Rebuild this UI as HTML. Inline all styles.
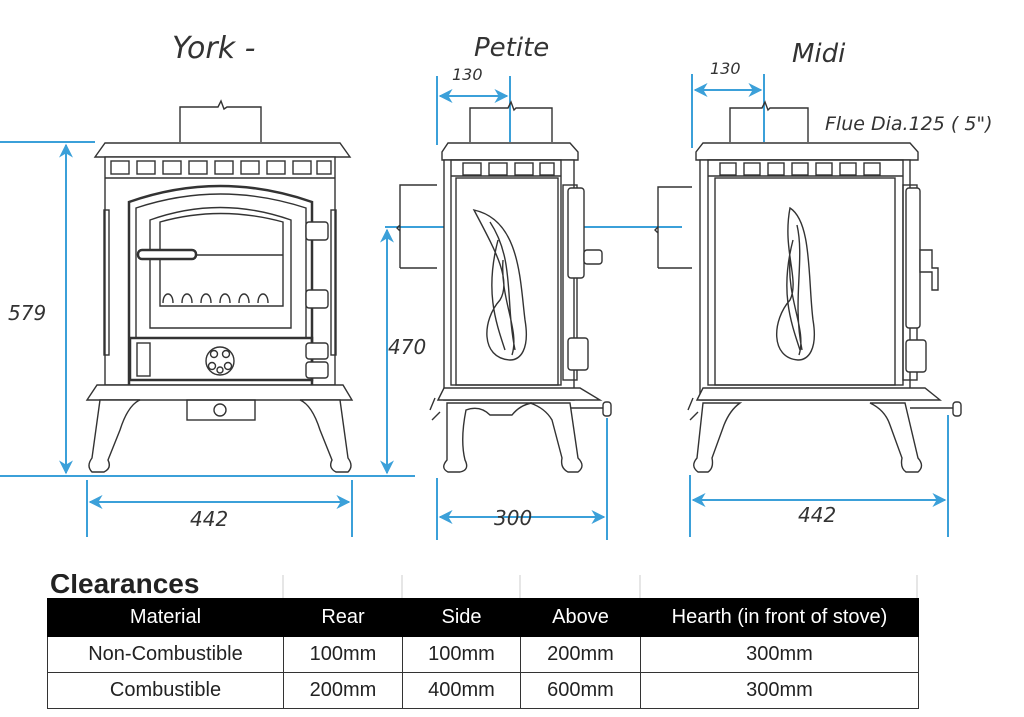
<!DOCTYPE html>
<html><head><meta charset="utf-8"><style>
html,body{margin:0;padding:0;background:#fff;}
#w{position:relative;width:1024px;height:717px;overflow:hidden;}
svg{position:absolute;left:0;top:0;}
.hw{font-family:"DejaVu Sans","Liberation Sans",sans-serif;font-style:italic;fill:#333;}
table{position:absolute;left:47px;top:598px;border-collapse:collapse;font-family:"Liberation Sans",sans-serif;font-size:20px;color:#222;}
td{border:1px solid #333;text-align:center;padding:0;height:35px;}
tr.h td{background:#000;color:#fff;height:37px;border-color:#000;}
</style></head><body><div id="w">
<svg width="1024" height="717" viewBox="0 0 1024 717">
<defs>
<marker id="a" viewBox="0 0 10 10" refX="9" refY="5" markerWidth="7" markerHeight="7" orient="auto-start-reverse"><path d="M0,0 L10,5 L0,10 L3,5 z" fill="#3ba0d9"/></marker>
</defs>
<text x="172" y="58" class="hw" font-size="30">York -</text>
<text x="474" y="56" class="hw" font-size="26">Petite</text>
<text x="792" y="62" class="hw" font-size="26">Midi</text>
<text x="825" y="130" class="hw" font-size="19">Flue Dia.125 ( 5")</text>

<g stroke="#3ba0d9" stroke-width="2" fill="none">
<line x1="0" y1="142" x2="95" y2="142"/>
<line x1="0" y1="476" x2="370" y2="476"/>
<line x1="66" y1="145" x2="66" y2="473" marker-start="url(#a)" marker-end="url(#a)"/>
<line x1="87" y1="480" x2="87" y2="537"/>
<line x1="352" y1="480" x2="352" y2="537"/>
<line x1="90" y1="502" x2="349" y2="502" marker-start="url(#a)" marker-end="url(#a)"/>
<line x1="437" y1="76" x2="437" y2="145"/>
<line x1="510" y1="76" x2="510" y2="142"/>
<line x1="440" y1="96" x2="507" y2="96" marker-start="url(#a)" marker-end="url(#a)"/>
<line x1="385" y1="227" x2="682" y2="227"/>
<line x1="387" y1="230" x2="387" y2="473" marker-start="url(#a)" marker-end="url(#a)"/>
<line x1="320" y1="476" x2="415" y2="476"/>
<line x1="437" y1="478" x2="437" y2="540"/>
<line x1="607" y1="418" x2="607" y2="540"/>
<line x1="440" y1="517" x2="604" y2="517" marker-start="url(#a)" marker-end="url(#a)"/>
<line x1="692" y1="74" x2="692" y2="148"/>
<line x1="764" y1="74" x2="764" y2="142"/>
<line x1="695" y1="90" x2="761" y2="90" marker-start="url(#a)" marker-end="url(#a)"/>
<line x1="690" y1="475" x2="690" y2="537"/>
<line x1="948" y1="415" x2="948" y2="537"/>
<line x1="693" y1="500" x2="945" y2="500" marker-start="url(#a)" marker-end="url(#a)"/>
</g>
<text x="8" y="320" class="hw" font-size="20">579</text>
<text x="190" y="526" class="hw" font-size="20">442</text>
<text x="388" y="354" class="hw" font-size="20">470</text>
<text x="494" y="525" class="hw" font-size="20">300</text>
<text x="798" y="522" class="hw" font-size="20">442</text>
<text x="452" y="80" class="hw" font-size="16">130</text>
<text x="710" y="74" class="hw" font-size="16">130</text>

<g stroke="#333" stroke-width="1.4" fill="#fff">
<path d="M180,142 V107 H218 l3,-6 l3,8 l3,-2 H261 V142" fill="none"/>
<path d="M95,157 L105,143 H340 L350,157 Z"/>
<rect x="105" y="157" width="230" height="228"/>
<line x1="105" y1="178" x2="335" y2="178"/>
<g fill="none">
<rect x="111" y="161" width="18" height="13"/><rect x="137" y="161" width="18" height="13"/><rect x="163" y="161" width="18" height="13"/><rect x="189" y="161" width="18" height="13"/><rect x="215" y="161" width="18" height="13"/><rect x="241" y="161" width="18" height="13"/><rect x="267" y="161" width="18" height="13"/><rect x="293" y="161" width="18" height="13"/><rect x="317" y="161" width="14" height="13"/>
<rect x="104" y="210" width="5" height="145"/><rect x="331" y="210" width="5" height="145"/>
</g>
<path d="M129,385 V202 Q220,170 312,202 V385" stroke-width="2.5" fill="none"/>
<path d="M136,338 V208 Q220,180 306,208 V338 Z" fill="none"/>
<path d="M150,328 V220 Q220,195 291,220 V328 Z" fill="none"/>
<path d="M160,306 V222 Q220,205 283,222 V306 Z" fill="none"/>
<line x1="160" y1="255" x2="283" y2="255"/>
<rect x="138" y="250" width="58" height="9" rx="4" stroke-width="2.5"/>
<path d="M163,303 c0,-12 10,-12 10,0 M182,303 c0,-12 10,-12 10,0 M201,303 c0,-12 10,-12 10,0 M220,303 c0,-12 10,-12 10,0 M239,303 c0,-12 10,-12 10,0 M258,303 c0,-12 10,-12 10,0" fill="none"/>
<rect x="130" y="338" width="182" height="42" stroke-width="2.5" fill="none"/>
<rect x="137" y="343" width="13" height="33"/>
<circle cx="220" cy="361" r="14"/>
<circle cx="214" cy="354" r="3.5"/><circle cx="226" cy="354" r="3.5"/><circle cx="212" cy="366" r="3.5"/><circle cx="228" cy="366" r="3.5"/><circle cx="220" cy="370" r="3"/>
<rect x="306" y="222" width="22" height="18" rx="3"/><rect x="306" y="290" width="22" height="18" rx="3"/><rect x="306" y="343" width="22" height="16" rx="3"/><rect x="306" y="362" width="22" height="16" rx="3"/>
<path d="M87,400 L97,385 H343 L352,400 Z"/>
<rect x="187" y="400" width="68" height="20" fill="none"/>
<circle cx="220" cy="410" r="6"/>
<path d="M100,400 H140 Q128,405 120,430 L108,460 Q112,468 104,472 H92 Q86,466 92,458 Z"/>
<path d="M340,400 H300 Q312,405 320,430 L332,460 Q328,468 336,472 H348 Q354,466 348,458 Z"/>

<path d="M470,142 V108 H508 l3,-6 l3,8 l2,-2 H552 V142" fill="none"/>
<path d="M400,268 V185 H437 M400,268 H437 M400,185 v40 l-3,3 l3,3 v37" fill="none"/>
<path d="M448,143 H570 L578,152 V160 H442 V152 Z"/>
<rect x="444" y="160" width="130" height="240"/>
<rect x="451" y="160" width="110" height="225" fill="none"/>
<rect x="456" y="178" width="102" height="207" fill="none"/>
<line x1="451" y1="176" x2="561" y2="176"/>
<g fill="none"><rect x="463" y="163" width="18" height="12"/><rect x="489" y="163" width="18" height="12"/><rect x="515" y="163" width="18" height="12"/><rect x="540" y="163" width="14" height="12"/></g>
<rect x="563" y="185" width="14" height="195" fill="none"/>
<rect x="568" y="188" width="16" height="90" rx="3"/>
<rect x="584" y="250" width="18" height="14" rx="3"/>
<rect x="568" y="338" width="20" height="32" rx="3"/>
<path d="M474,210 C520,220 520,280 525,320 C530,350 520,360 510,360 C480,358 482,320 500,300 C512,280 495,250 474,210 Z M490,222 C515,260 505,300 515,350 M503,260 C500,300 520,330 512,355 M498,240 C485,290 495,320 505,350" fill="none"/>
<path d="M438,400 L444,388 H580 L600,400 Z"/>
<line x1="570" y1="408" x2="610" y2="408"/><rect x="603" y="402" width="8" height="14" rx="3"/>
<path d="M430,410 l5,-12 M432,420 l8,-8"/>
<path d="M447,403 H532 Q520,405 512,415 H490 Q480,405 466,410 Q460,440 465,460 Q470,470 460,472 H448 Q440,468 447,460 Z"/>
<path d="M570,403 H530 Q545,408 552,420 L562,458 Q560,468 568,472 H578 Q586,466 578,458 Z"/>

<path d="M730,142 V108 H762 l3,-6 l3,8 l2,-2 H808 V142" fill="none"/>
<path d="M658,268 V187 H692 M658,268 H692 M658,187 v40 l-3,3 l3,3 v35" fill="none"/>
<path d="M703,143 H910 L918,152 V160 H696 V152 Z"/>
<rect x="700" y="160" width="210" height="240"/>
<rect x="708" y="160" width="195" height="225" fill="none"/>
<rect x="715" y="178" width="180" height="207" fill="none"/>
<line x1="708" y1="176" x2="903" y2="176"/>
<g fill="none"><rect x="720" y="163" width="16" height="12"/><rect x="744" y="163" width="16" height="12"/><rect x="768" y="163" width="16" height="12"/><rect x="792" y="163" width="16" height="12"/><rect x="816" y="163" width="16" height="12"/><rect x="840" y="163" width="16" height="12"/><rect x="864" y="163" width="16" height="12"/></g>
<rect x="903" y="185" width="14" height="195" fill="none"/>
<rect x="906" y="188" width="14" height="140" rx="3"/>
<path d="M920,250 H932 V268 H938 V290 H932 V272 H920 Z"/>
<rect x="906" y="340" width="20" height="32" rx="3"/>
<path d="M790,208 C812,222 808,280 813,320 C818,350 808,360 798,360 C770,358 772,320 790,300 C800,280 782,250 790,208 Z M797,225 C805,260 792,300 802,350 M790,260 C787,300 807,330 799,355 M793,240 C780,290 790,320 800,350" fill="none"/>
<path d="M697,400 L703,388 H925 L940,400 Z"/>
<line x1="910" y1="408" x2="955" y2="408"/><rect x="953" y="402" width="8" height="14" rx="3"/>
<path d="M688,410 l5,-12 M690,420 l8,-8"/>
<path d="M703,403 H740 Q730,410 724,425 L712,458 Q714,468 708,472 H698 Q690,466 697,458 Z"/>
<path d="M905,403 H870 Q885,410 890,425 L902,458 Q900,468 906,472 H918 Q925,466 918,458 Z"/>
</g>

<text x="50" y="593" font-family="Liberation Sans,sans-serif" font-weight="bold" font-size="28" fill="#222">Clearances</text>
<g stroke="#ccc" stroke-width="1"><line x1="283" y1="575" x2="283" y2="598"/><line x1="402" y1="575" x2="402" y2="598"/><line x1="520" y1="575" x2="520" y2="598"/><line x1="640" y1="575" x2="640" y2="598"/><line x1="917" y1="575" x2="917" y2="598"/></g>
<rect x="0" y="560" width="1024" height="14" fill="#fff"/>
</svg>
<table>
<tr class="h"><td style="width:235px">Material</td><td style="width:118px">Rear</td><td style="width:117px">Side</td><td style="width:119px">Above</td><td style="width:277px">Hearth (in front of stove)</td></tr>
<tr><td>Non-Combustible</td><td>100mm</td><td>100mm</td><td>200mm</td><td>300mm</td></tr>
<tr><td>Combustible</td><td>200mm</td><td>400mm</td><td>600mm</td><td>300mm</td></tr>
</table>
</div></body></html>
